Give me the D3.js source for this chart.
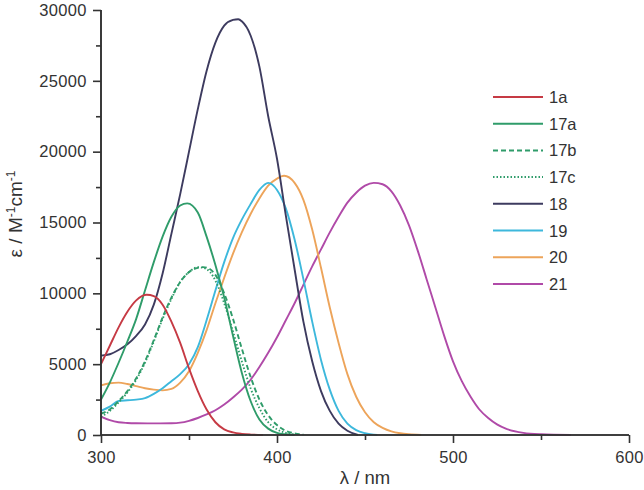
<!DOCTYPE html>
<html><head><meta charset="utf-8">
<script src="https://cdn.jsdelivr.net/npm/d3@7"></script>
<style>body{margin:0;background:#fff}svg{display:block}text{font-family:"Liberation Sans",Arial,sans-serif;fill:#333}</style>
</head><body>
<script>
const wl1a=[300,305,310,315,320,326,330,335,340,345,350,355,360,365,370,375,380,385,392];
const eps1a=[5000,6300,7600,8700,9500,9900,9800,9200,8000,6500,4700,3100,1800,900,400,180,80,30,0];
const wl17a=[300,305,310,315,320,325,330,335,340,345,349,355,360,365,370,375,380,385,390,395,400,405,410];
const eps17a=[2500,3700,5100,6600,8200,10200,12200,14000,15400,16200,16350,15700,14000,12000,9700,7000,4400,2400,1100,450,150,50,0];
const wl17b=[300,305,310,315,320,325,330,335,340,345,350,355,358,362,365,370,375,380,385,390,395,400,405,410,415];
const eps17b=[1500,1800,2400,3100,4000,5200,6700,8300,9700,10800,11500,11800,11850,11700,11300,10000,8200,6100,4100,2500,1400,700,300,120,30];
const wl17c=[300,305,310,315,320,325,330,335,340,345,350,355,358,362,365,370,375,380,385,390,395,400,405,410];
const eps17c=[1300,1700,2300,3000,3900,5100,6600,8200,9600,10800,11500,11850,11800,11500,10900,9300,7300,5200,3300,1900,900,400,150,40];
const wl18=[300,305,310,315,320,325,330,335,340,345,350,355,360,365,370,375,378,380,385,390,395,400,405,410,415,420,425,430,435,440,446];
const eps18=[5600,5700,6000,6400,7000,7800,9200,11400,14200,17000,20000,23000,25700,27700,28900,29300,29350,29200,28200,26000,22500,19500,15500,11700,8000,5200,3100,1700,800,300,0];
const wl19=[300,305,310,315,320,325,330,335,340,345,350,355,360,365,370,375,380,385,390,395,400,405,410,415,420,425,430,435,440,445,450,457];
const eps19=[1700,2000,2400,2450,2500,2600,2900,3300,3800,4300,5000,6200,8100,10200,12200,13900,15200,16300,17300,17800,17300,16000,13800,11000,8000,5300,3200,1700,800,350,130,0];
const wl20=[300,305,310,315,320,325,330,335,340,345,350,355,360,365,370,375,380,385,390,395,400,404,410,415,420,425,430,435,440,445,450,455,460,465,470,475,482];
const eps20=[3500,3650,3700,3600,3450,3300,3200,3150,3250,3700,4500,5800,7400,9300,11100,12800,14300,15600,16700,17600,18100,18300,17800,16600,14500,11800,9000,6500,4300,2700,1600,900,500,250,120,50,0];
const wl21=[300,305,310,315,320,330,340,345,350,355,360,365,370,375,380,385,390,395,400,405,410,415,420,425,430,435,440,445,450,455,460,465,470,475,480,485,490,495,500,505,510,515,520,525,530,540,550,567];
const eps21=[1300,1050,900,850,830,820,830,870,1000,1200,1450,1750,2150,2650,3200,3900,4800,5800,6900,8100,9300,10600,11900,13100,14300,15400,16400,17100,17600,17800,17700,17200,16200,14800,13000,11000,9000,7000,5200,3800,2700,1800,1200,750,450,150,50,0];
const seriesNames=["1a","17a","17b","17c","18","19","20","21"];
const xTicks=[300,400,500,600];
const yTicks=[0,5000,10000,15000,20000,25000,30000];

const colors={"1a":"#c63a44","17a":"#2f9c6a","17b":"#2f9c6a","17c":"#2f9c6a","18":"#3d3b5f","19":"#3db8dc","20":"#eda45a","21":"#b04aa8"};
const dashes={"17b":"5,3","17c":"1.5,2"};
const dataMap={"1a":[wl1a,eps1a],"17a":[wl17a,eps17a],"17b":[wl17b,eps17b],"17c":[wl17c,eps17c],"18":[wl18,eps18],"19":[wl19,eps19],"20":[wl20,eps20],"21":[wl21,eps21]};

const W=644,H=490;
const svg=d3.select("body").append("svg").attr("width",W).attr("height",H);
const x=d3.scaleLinear().domain([300,600]).range([101,629]);
const y=d3.scaleLinear().domain([0,30000]).range([435,10]);

const line=d3.line().x(d=>x(d[0])).y(d=>y(d[1])).curve(d3.curveMonotoneX);
const order=["21","20","19","18","17c","17b","17a","1a"];
order.forEach(n=>{
  const [w,e]=dataMap[n];
  svg.append("path").datum(w.map((v,i)=>[v,e[i]])).attr("d",line)
    .attr("fill","none").attr("stroke",colors[n]).attr("stroke-width",1.9)
    .attr("stroke-dasharray",dashes[n]||null);
});

// axes
const axCol="#333";
const gx=svg.append("g").attr("transform","translate(0,435)");
gx.call(d3.axisBottom(x).tickValues(xTicks).tickSize(8).tickFormat(d3.format("d")));
gx.append("g").call(d3.axisBottom(x).tickValues([350,450,550]).tickSize(5).tickFormat(""));
const gy=svg.append("g").attr("transform","translate(101,0)");
gy.call(d3.axisLeft(y).tickValues(yTicks).tickSize(8).tickFormat(d3.format("d")));
gy.append("g").call(d3.axisLeft(y).tickValues([2500,7500,12500,17500,22500,27500]).tickSize(5).tickFormat(""));
svg.selectAll(".domain").attr("stroke",axCol).attr("stroke-width",1.6);
svg.selectAll(".tick line").attr("stroke",axCol).attr("stroke-width",1.6);
svg.selectAll(".tick text").attr("font-size",16.5).attr("fill","#333").attr("letter-spacing","0.3px").style("font-family","Liberation Sans, Arial, sans-serif");
gx.selectAll(".tick text").attr("dy","1.05em");
gy.selectAll(".tick text").attr("dx","-0.2em");
gx.selectAll(".domain").attr("d","M101,0H629");
gy.selectAll(".domain").attr("d","M0,435V10");

// axis titles
svg.append("text").attr("x",365).attr("y",484).attr("text-anchor","middle").attr("font-size",18.5).text("λ  / nm");
const yl=svg.append("text").attr("transform","translate(22,214) rotate(-90)").attr("text-anchor","middle").attr("font-size",19);
yl.append("tspan").text("ε / M");
yl.append("tspan").attr("baseline-shift","super").attr("font-size",12).text("-1");
yl.append("tspan").text("cm");
yl.append("tspan").attr("baseline-shift","super").attr("font-size",12).text("-1");

// legend
const lg=svg.append("g");
seriesNames.forEach((n,i)=>{
  const yy=97+i*26.7;
  lg.append("line").attr("x1",493).attr("x2",543).attr("y1",yy).attr("y2",yy)
    .attr("stroke",colors[n]).attr("stroke-width",2).attr("stroke-dasharray",dashes[n]||null);
  lg.append("text").attr("x",549).attr("y",yy+6).attr("font-size",16.5).text(n);
});
</script>
</body></html>
